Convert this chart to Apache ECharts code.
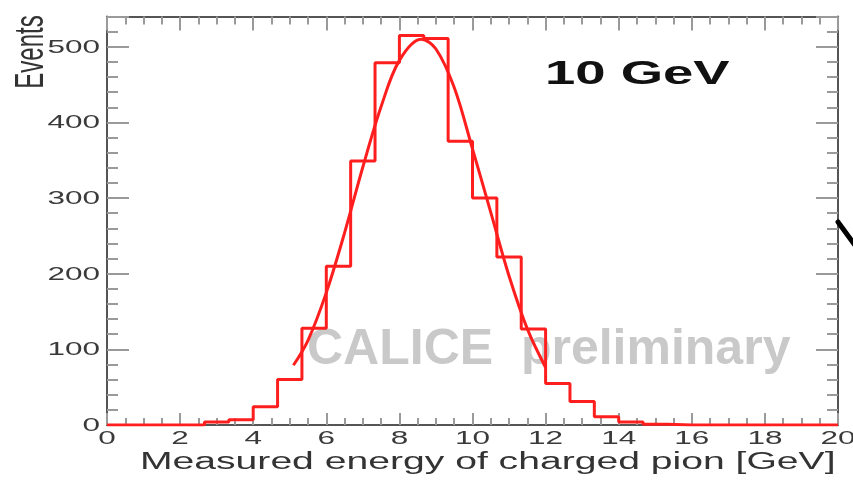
<!DOCTYPE html>
<html><head><meta charset="utf-8">
<script src="https://cdn.jsdelivr.net/npm/echarts@6/dist/echarts.min.js"></script>
<style>html,body{margin:0;padding:0;background:#fff}#c{width:853px;height:481px}</style>
</head><body><div id="c"></div>
<script>
// Histogram: 30 bins from 0 to 20 GeV
const histMin = 0, histMax = 20;
const counts = [0,0,0,0,4,7,24,60,128,210,349,479,515,511,375,300,222,127,55,31,11,4,1,0,0,0,0,0,0,0];
// Gaussian fit curve
const fitX = [5.1,5.5,6.0,6.5,7.0,7.5,8.0,8.6,9.0,9.5,10.0,10.5,11.0,11.5,12.0];
const fitY = [79,112,175,254,341,421,482,510,497,446,365,281,197,127,76];
// Tick labels
const xTickValues = [0,2,4,6,8,10,12,14,16,18,20];
const xTickLabels = ['0','2','4','6','8','10','12','14','16','18','20'];
const yTickValues = [0,100,200,300,400,500];
const yTickLabels = ['0','100','200','300','400','500'];

const nBins = counts.length;
const binW = (histMax - histMin) / nBins;
const histData = counts.map((c, i) => [histMin + i * binW, c]);
histData.push([histMax, counts[nBins - 1]]);
const fitData = fitX.map((x, i) => [x, fitY[i]]);

const FONT = '"Liberation Sans", Arial, Helvetica, sans-serif';
const RED = '#ff1e1e';
const axisLineStyle = {color: '#555', width: 2};
const tickStyle = {color: '#9a9a9a', width: 2};

function xAxisCfg(pos, major, minor) {
  return {type: 'value', position: pos, min: 0, max: 20, interval: 2,
    axisLine: {show: true, onZero: false, lineStyle: axisLineStyle},
    axisTick: {show: true, inside: true, length: major, lineStyle: tickStyle},
    minorTick: {show: true, splitNumber: 4, length: minor, lineStyle: tickStyle},
    axisLabel: {show: false}, splitLine: {show: false}, minorSplitLine: {show: false}};
}
function yAxisCfg(pos, major, minor) {
  return {type: 'value', position: pos, min: 0, max: 540, interval: 100,
    axisLine: {show: true, onZero: false, lineStyle: axisLineStyle},
    axisTick: {show: true, inside: true, length: major, lineStyle: tickStyle},
    minorTick: {show: true, splitNumber: 5, length: minor, lineStyle: tickStyle},
    axisLabel: {show: false}, splitLine: {show: false}, minorSplitLine: {show: false}};
}

const chart = echarts.init(document.getElementById('c'), null, {renderer: 'canvas'});
chart.setOption({
  animation: false,
  backgroundColor: '#fff',
  grid: {left: 107, right: 15, top: 16.5, bottom: 56},
  xAxis: [xAxisCfg('bottom', 12, 7), xAxisCfg('top', 14, 8)],
  yAxis: [yAxisCfg('left', 22, 11), yAxisCfg('right', 22, 11)],
  graphic: [
    {type: 'text', x: 307, y: 350, z: 0,
      style: {text: 'CALICE  preliminary', fontSize: 50, fontWeight: 'bold', fontFamily: FONT,
        fill: '#c9c9c9', align: 'left', verticalAlign: 'middle'}},
    {type: 'text', x: 545, y: 75, scaleX: 1.65, z: 10,
      style: {text: '10 GeV', fontSize: 33, fontWeight: 'bold', fontFamily: FONT,
        fill: '#111', align: 'left', verticalAlign: 'middle'}},
    {type: 'text', x: 140, y: 463, scaleX: 1.7, z: 10,
      style: {text: 'Measured energy of charged pion [GeV]', fontSize: 23, fontFamily: FONT,
        fill: '#333', align: 'left', verticalAlign: 'middle'}},
    {type: 'text', x: 32, y: 52, rotation: Math.PI / 2, scaleY: 1.7, z: 10,
      style: {text: 'Events', fontSize: 24, fontFamily: FONT,
        fill: '#333', align: 'center', verticalAlign: 'middle'}},
    {type: 'line', z: 10, shape: {x1: 838, y1: 222, x2: 860, y2: 252},
      style: {stroke: '#000', lineWidth: 5, lineCap: 'round'}}
  ],
  series: [
    {type: 'line', name: 'hist', step: 'end', data: histData, symbol: 'none',
      lineStyle: {color: RED, width: 3}, z: 3},
    {type: 'line', name: 'fit', smooth: 0.35, data: fitData, symbol: 'none',
      lineStyle: {color: RED, width: 3}, z: 4},
    {type: 'custom', name: 'xlabels', data: xTickValues.map(v => [v, 0]), z: 5, silent: true,
      renderItem: (params, api) => {
        const p = api.coord([api.value(0), 0]);
        return {type: 'text', x: p[0], y: p[1] + 14, scaleX: 1.75,
          style: {text: xTickLabels[params.dataIndex], fontSize: 18, fontFamily: FONT,
            fill: '#3a3a3a', align: 'center', verticalAlign: 'middle'}};
      }},
    {type: 'custom', name: 'ylabels', data: yTickValues.map(v => [0, v]), z: 5, silent: true,
      renderItem: (params, api) => {
        const p = api.coord([0, api.value(1)]);
        return {type: 'text', x: p[0] - 7, y: p[1] + 1, scaleX: 1.75,
          style: {text: yTickLabels[params.dataIndex], fontSize: 18, fontFamily: FONT,
            fill: '#3a3a3a', align: 'right', verticalAlign: 'middle'}};
      }}
  ]
});
</script>
</body></html>
